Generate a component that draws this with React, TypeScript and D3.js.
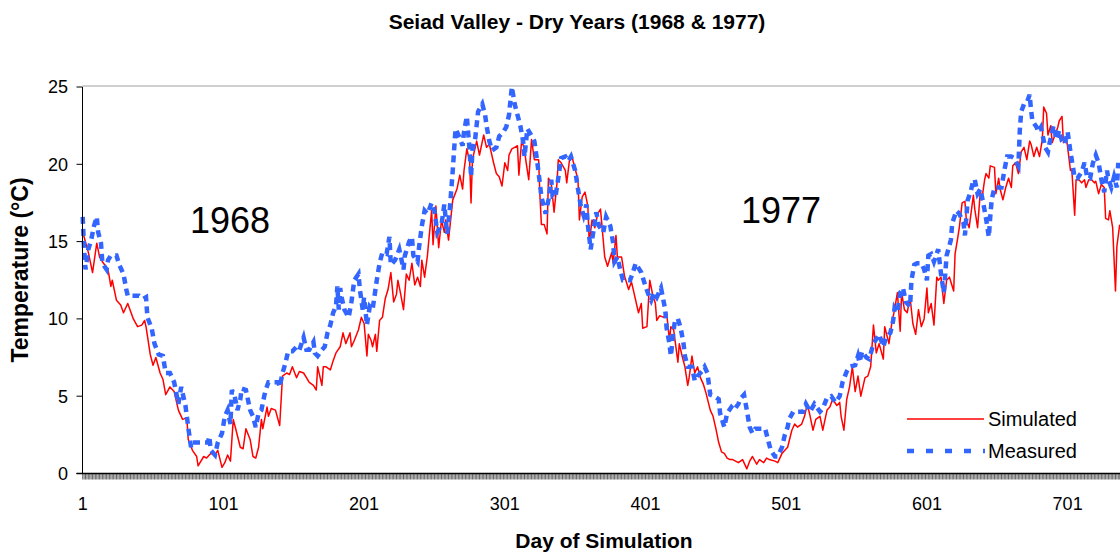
import * as d3 from "d3";

// Simulated daily water temperature
const simDays = [
  1, 2, 5, 8, 11, 13, 15, 19, 21, 22, 25, 28, 30, 33, 37, 40, 43, 45, 46, 49,
  51, 53, 56, 58, 60, 63, 66, 69, 72, 75, 76, 79, 82, 83, 87, 89, 92, 95, 97, 100,
  102, 104, 106, 108, 110, 113, 115, 117, 120, 122, 124, 126, 128, 129, 132, 133, 135, 138, 141, 143,
  146, 148, 150, 153, 155, 158, 160, 162, 165, 167, 168, 171, 172, 174, 177, 179, 181, 184, 186, 188,
  191, 192, 194, 197, 199, 201, 203, 204, 206, 207, 209, 210, 212, 214, 216, 218, 220, 222, 224, 225,
  227, 229, 231, 233, 235, 237, 239, 241, 242, 244, 246, 247, 249, 250, 252, 254, 256, 258, 259, 261,
  264, 267, 269, 271, 272, 274, 276, 277, 278, 281, 283, 286, 288, 290, 293, 295, 297, 299, 301, 303,
  304, 306, 308, 310, 311, 313, 315, 316, 318, 320, 322, 325, 326, 327, 329, 331, 332, 334, 336, 338,
  339, 341, 344, 345, 347, 349, 351, 353, 354, 356, 358, 360, 361, 363, 365, 367, 369, 372, 374, 377,
  378, 380, 381, 384, 386, 389, 391, 393, 396, 398, 399, 402, 404, 406, 408, 409, 411, 414, 416, 418,
  419, 421, 424, 425, 427, 429, 431, 432, 434, 436, 438, 440, 442, 444, 447, 449, 451, 453, 455, 457,
  459, 461, 463, 467, 470, 473, 475, 477, 480, 482, 485, 487, 489, 493, 495, 498, 500, 502, 505, 507,
  509, 512, 514, 516, 518, 520, 522, 525, 527, 530, 532, 534, 537, 539, 540, 542, 544, 546, 548, 550,
  552, 554, 557, 559, 561, 563, 565, 567, 570, 571, 574, 576, 578, 580, 582, 583, 585, 587, 589, 591,
  593, 595, 597, 599, 601, 602, 604, 606, 608, 609, 611, 613, 615, 617, 620, 621, 623, 624, 626, 628,
  629, 631, 633, 634, 635, 637, 639, 640, 642, 643, 645, 646, 649, 650, 652, 653, 655, 657, 659, 661,
  662, 664, 666, 668, 670, 672, 674, 675, 677, 679, 681, 683, 684, 686, 687, 689, 690, 692, 694, 695,
  697, 698, 700, 701, 703, 704, 706, 707, 709, 711, 713, 714, 716, 718, 720, 721, 723, 725, 727, 728,
  730, 731, 733, 735, 736, 738,
];
const simTemps = [
  15.6, 15.3, 14.3, 13.0, 14.9, 14.0, 13.7, 13.2, 12.1, 12.5, 11.2, 10.9, 10.4, 11.0, 10.0, 9.5, 9.6, 9.9, 9.5, 7.7,
  7.0, 7.5, 6.5, 6.1, 5.1, 5.6, 5.3, 4.1, 3.5, 3.6, 2.2, 1.5, 1.1, 0.5, 1.1, 1.0, 1.3, 1.2, 1.5, 0.4,
  0.7, 1.2, 0.8, 3.5, 2.8, 1.7, 1.6, 2.9, 2.2, 1.1, 1.0, 1.7, 3.5, 2.9, 4.3, 3.7, 4.2, 4.1, 3.1, 6.3,
  6.5, 6.4, 6.9, 6.2, 6.6, 6.5, 6.2, 5.9, 5.7, 5.4, 6.9, 5.7, 6.9, 6.9, 6.7, 7.3, 7.8, 8.2, 9.1, 8.4,
  9.1, 8.2, 8.6, 9.3, 10.1, 9.7, 7.6, 9.0, 8.6, 8.2, 9.0, 7.9, 9.9, 10.1, 11.3, 11.9, 13.0, 11.1, 11.6, 12.5,
  11.6, 10.6, 12.9, 12.5, 13.6, 12.2, 12.7, 12.1, 13.8, 12.7, 14.1, 15.1, 17.0, 14.8, 17.3, 14.6, 16.4, 15.6, 16.4, 15.1,
  17.7, 18.4, 19.3, 18.4, 19.6, 21.0, 20.2, 17.5, 20.3, 21.5, 20.6, 21.9, 21.1, 21.3, 20.1, 19.4, 19.2, 18.6, 20.1, 19.6,
  20.6, 21.0, 21.1, 21.2, 19.3, 21.6, 20.9, 20.2, 19.0, 21.6, 20.3, 20.3, 17.9, 16.1, 16.1, 15.5, 19.1, 18.8, 16.9, 18.7,
  20.3, 20.1, 19.6, 18.8, 20.3, 20.4, 19.7, 19.0, 16.4, 17.9, 18.2, 17.3, 14.9, 16.4, 15.9, 16.8, 17.1, 14.0, 13.4, 14.3,
  13.6, 15.4, 14.0, 14.0, 12.8, 11.9, 12.4, 11.6, 10.4, 11.0, 9.4, 9.5, 12.5, 11.6, 11.0, 9.9, 10.2, 10.1, 10.4, 8.6,
  9.5, 9.3, 7.2, 8.4, 7.6, 6.9, 5.7, 6.2, 7.6, 6.5, 6.9, 6.2, 5.8, 5.2, 4.1, 3.7, 2.9, 2.0, 1.4, 1.3,
  1.0, 0.9, 0.9, 0.7, 0.9, 0.3, 0.8, 1.1, 0.6, 0.9, 0.7, 1.0, 0.9, 0.8, 0.7, 1.3, 1.5, 1.7, 2.8, 3.2,
  3.0, 3.2, 3.7, 4.5, 3.7, 2.8, 3.5, 3.7, 2.8, 4.1, 4.3, 4.8, 4.4, 4.6, 3.7, 2.8, 4.8, 5.6, 6.9, 5.3,
  6.3, 5.0, 6.2, 6.3, 6.9, 9.6, 7.8, 8.4, 7.4, 9.5, 8.4, 9.7, 10.6, 11.7, 9.2, 11.7, 10.6, 10.4, 11.4, 9.7,
  9.0, 10.6, 9.5, 10.0, 12.0, 10.4, 11.0, 9.6, 12.7, 12.5, 12.7, 11.0, 12.5, 12.7, 11.8, 14.2, 15.3, 15.9, 17.5, 17.6,
  16.4, 15.9, 17.3, 18.0, 17.1, 15.9, 18.3, 17.7, 19.0, 19.4, 19.1, 19.9, 19.8, 18.1, 19.1, 18.4, 17.7, 18.5, 19.1, 18.5,
  19.9, 20.1, 19.4, 20.8, 21.1, 20.3, 21.5, 21.3, 20.5, 21.1, 20.5, 21.6, 23.7, 23.3, 21.9, 22.5, 21.4, 21.9, 22.4, 22.8,
  23.1, 21.4, 21.8, 21.1, 19.6, 19.6, 16.7, 19.0, 19.0, 18.8, 19.0, 18.5, 19.0, 19.0, 18.8, 18.9, 18.1, 18.7, 18.5, 16.5,
  16.4, 17.0, 15.9, 11.8, 14.7, 16.1,
];

// Measured water temperature
const measDays = [
  1, 2, 3, 5, 7, 9, 11, 12, 14, 15, 18, 19, 21, 25, 27, 30, 32, 33, 37, 41,
  44, 46, 47, 50, 52, 55, 58, 60, 63, 66, 69, 71, 74, 76, 78, 79, 87, 90, 91, 92,
  95, 97, 100, 102, 104, 106, 107, 109, 111, 113, 114, 117, 120, 122, 124, 126, 128, 130, 131, 133,
  140, 141, 143, 145, 147, 150, 153, 155, 158, 160, 162, 165, 166, 168, 171, 173, 175, 177, 179, 181,
  182, 183, 184, 185, 187, 190, 192, 194, 197, 198, 200, 201, 203, 205, 207, 210, 212, 214, 217, 219,
  220, 223, 226, 229, 230, 233, 235, 236, 239, 240, 242, 244, 246, 249, 251, 253, 256, 258, 260, 262,
  263, 264, 265, 266, 269, 271, 272, 274, 276, 277, 278, 280, 282, 285, 287, 288, 290, 292, 295, 297,
  300, 302, 304, 305, 306, 308, 310, 312, 314, 315, 317, 319, 322, 324, 326, 327, 330, 332, 334, 335,
  337, 339, 341, 344, 346, 348, 351, 353, 355, 357, 359, 360, 362, 364, 366, 368, 371, 373, 376, 378,
  379, 381, 383, 385, 390, 392, 394, 398, 401, 403, 405, 407, 409, 412, 415, 416, 418, 419, 421, 422,
  424, 426, 428, 429, 431, 434, 436, 438, 441, 443, 445, 447, 450, 453, 454, 457, 459, 462, 464, 467,
  469, 471, 473, 475, 477, 479, 486, 488, 490, 493, 495, 498, 500, 502, 503, 506, 513, 515, 518, 521,
  525, 527, 530, 533, 536, 539, 541, 544, 546, 550, 552, 553, 555, 558, 560, 563, 565, 567, 570, 572,
  575, 577, 578, 580, 582, 584, 586, 589, 590, 592, 594, 597, 599, 601, 602, 604, 606, 609, 611, 613,
  615, 618, 619, 622, 624, 627, 628, 630, 632, 634, 635, 637, 639, 641, 643, 645, 646, 647, 649, 651,
  654, 656, 658, 661, 663, 666, 667, 668, 670, 672, 674, 675, 676, 679, 680, 682, 685, 687, 688, 691,
  693, 695, 697, 699, 701, 703, 705, 706, 708, 711, 713, 715, 717, 719, 721, 723, 725, 727, 729, 730,
  732, 734, 736, 737,
];
const measTemps = [
  16.6, 14.5, 13.2, 14.5, 15.1, 16.0, 16.6, 15.6, 14.9, 13.6, 13.2, 13.8, 14.1, 14.1, 13.5, 12.9, 11.9, 11.5, 11.5, 11.5,
  11.3, 11.4, 10.1, 9.4, 8.4, 7.7, 7.6, 6.5, 6.5, 5.9, 4.5, 5.6, 4.4, 3.0, 1.7, 2.0, 2.0, 2.0, 2.4, 1.5,
  1.2, 2.0, 2.6, 3.7, 4.1, 3.2, 5.4, 5.0, 4.1, 4.8, 5.5, 5.4, 4.1, 3.7, 3.0, 3.9, 4.1, 5.0, 5.4, 5.9,
  5.9, 5.6, 6.5, 7.1, 7.9, 7.9, 8.2, 8.0, 8.8, 8.0, 8.0, 8.5, 7.8, 7.6, 8.0, 8.2, 9.1, 9.6, 10.4, 10.8,
  12.1, 10.6, 12.0, 11.4, 10.6, 10.1, 11.1, 12.5, 12.9, 11.9, 10.6, 11.4, 9.6, 10.8, 10.6, 12.5, 13.6, 14.3, 14.2, 15.3,
  13.5, 13.8, 14.5, 13.2, 14.1, 15.0, 15.3, 14.1, 13.7, 14.6, 16.0, 17.0, 16.8, 17.5, 17.0, 15.6, 16.1, 17.4, 15.5, 17.2,
  18.4, 19.6, 21.0, 22.3, 21.7, 21.2, 22.1, 23.1, 20.9, 19.2, 20.9, 21.7, 23.4, 23.9, 23.2, 22.5, 21.5, 20.9, 21.1, 21.8,
  22.1, 22.4, 23.2, 24.1, 25.0, 23.9, 23.2, 22.5, 21.5, 20.5, 22.3, 22.0, 21.5, 20.2, 18.7, 17.9, 16.8, 17.7, 19.0, 17.9,
  17.9, 19.1, 20.4, 20.5, 20.2, 20.5, 19.6, 18.4, 17.3, 16.7, 17.4, 16.1, 14.5, 15.7, 16.9, 16.0, 15.6, 16.6, 16.0, 14.9,
  13.7, 14.0, 13.2, 12.5, 12.5, 13.0, 13.6, 13.0, 12.1, 11.6, 11.2, 11.7, 11.4, 12.0, 10.6, 9.4, 8.4, 7.6, 9.3, 9.9,
  10.0, 9.4, 8.4, 7.6, 6.9, 6.9, 6.0, 6.3, 6.6, 6.9, 6.5, 5.1, 5.0, 4.8, 3.9, 3.0, 3.9, 4.3, 4.1, 4.5,
  4.9, 5.1, 4.1, 3.0, 2.6, 2.9, 2.9, 2.2, 1.5, 1.1, 1.1, 1.7, 2.5, 3.0, 3.5, 4.0, 4.0, 4.5, 4.0, 4.5,
  4.0, 4.2, 4.9, 5.0, 4.6, 5.0, 5.9, 6.6, 6.9, 7.0, 7.6, 7.2, 7.9, 7.5, 7.4, 8.4, 8.7, 9.0, 8.2, 8.8,
  9.1, 9.9, 10.7, 10.4, 11.7, 12.0, 11.1, 10.8, 12.5, 13.5, 13.6, 13.6, 13.2, 12.5, 14.1, 14.2, 13.7, 14.5, 12.9, 11.7,
  14.1, 15.1, 16.2, 17.0, 16.8, 16.2, 15.4, 17.7, 18.2, 19.0, 19.0, 18.1, 18.4, 17.5, 16.5, 15.3, 16.6, 17.7, 18.5, 18.5,
  18.5, 19.6, 20.5, 20.5, 20.4, 19.9, 22.2, 23.4, 23.9, 24.0, 24.5, 23.5, 22.8, 22.4, 22.1, 22.4, 21.1, 20.8, 21.3, 22.5,
  21.6, 22.2, 21.5, 21.3, 22.1, 20.8, 19.7, 19.1, 19.1, 19.5, 20.1, 19.1, 19.1, 20.1, 20.6, 20.1, 19.0, 18.2, 19.6, 19.0,
  18.5, 19.2, 18.5, 20.1,
];

const yTickValues = [0, 5, 10, 15, 20, 25];
const xTickLabels = [1, 101, 201, 301, 401, 501, 601, 701];
const seriesNames = ["Simulated", "Measured"];

export default function App() {
  const width = 1120;
  const height = 555;
  const marginLeft = 82.5;
  const marginTop = 87;
  const plotBottom = 473.5;
  const plotRight = 1120;
  const font = "'Liberation Sans', Arial, sans-serif";

  const xScale = d3.scaleLinear().domain([1, 738]).range([marginLeft + 0.2, plotRight - 0.3]);
  const yScale = d3.scaleLinear().domain([0, 25]).range([plotBottom, marginTop]);

  const line = d3
    .line<[number, number]>()
    .x((d) => xScale(d[0]))
    .y((d) => yScale(d[1]));

  const simPath = line(simDays.map((d, i) => [d, simTemps[i]]));
  const measPath = line(measDays.map((d, i) => [d, measTemps[i]]));

  // one small tick per day on the category axis
  const dayTicks = d3.range(1, 739);

  return (
    <svg
      width={width}
      height={height}
      style={{ position: "absolute", left: 0, top: 0, background: "#fff" }}
      fontFamily={font}
    >
      {/* Title */}
      <text x={577} y={29} textAnchor="middle" fontSize={21} fontWeight="bold">
        Seiad Valley - Dry Years (1968 &amp; 1977)
      </text>

      {/* plot area border */}
      <line x1={marginLeft} x2={plotRight} y1={marginTop - 1} y2={marginTop - 1} stroke="#a0a0a0" strokeWidth={1} />

      {/* year labels */}
      <text x={230} y={233} textAnchor="middle" fontSize={36}>1968</text>
      <text x={781} y={223} textAnchor="middle" fontSize={36}>1977</text>

      {/* series */}
      <path d={simPath ?? ""} fill="none" stroke="#FF0000" strokeWidth={1.5} strokeLinejoin="round" />
      <path d={measPath ?? ""} fill="none" stroke="#3366FF" strokeWidth={4.5} strokeDasharray="7 5" />

      {/* Y axis */}
      <line x1={marginLeft} x2={marginLeft} y1={marginTop} y2={plotBottom} stroke="black" />
      {yTickValues.map((t) => (
        <g key={t} transform={`translate(0,${yScale(t)})`}>
          <line x1={marginLeft - 6} x2={marginLeft} stroke="black" />
          <text x={68} dy="0.35em" textAnchor="end" fontSize={18}>
            {t}
          </text>
        </g>
      ))}

      {/* X axis */}
      {dayTicks.map((d) => (
        <line
          key={d}
          x1={xScale(d)}
          x2={xScale(d)}
          y1={plotBottom}
          y2={plotBottom + 6}
          stroke="black"
          strokeWidth={0.6}
        />
      ))}
      <line x1={marginLeft - 6} x2={plotRight} y1={plotBottom} y2={plotBottom} stroke="black" strokeWidth={1.5} />
      {xTickLabels.map((t) => (
        <text key={t} x={xScale(t)} y={510} textAnchor="middle" fontSize={18}>
          {t}
        </text>
      ))}

      {/* axis titles */}
      <text x={604} y={548} textAnchor="middle" fontSize={21} fontWeight="bold">
        Day of Simulation
      </text>
      <text
        transform={`translate(28,270) rotate(-90)`}
        textAnchor="middle"
        fontSize={23}
        fontWeight="bold"
      >
        Temperature (°C)
      </text>

      {/* Legend */}
      <g transform="translate(907,419)">
        <line x1={0} x2={77} y1={0} y2={0} stroke="#FF0000" strokeWidth={1.5} />
        <text x={81} y={7} fontSize={20}>{seriesNames[0]}</text>
        <line x1={0} x2={78} y1={32} y2={32} stroke="#3366FF" strokeWidth={4.5} strokeDasharray="7 12" />
        <text x={81} y={39} fontSize={20}>{seriesNames[1]}</text>
      </g>
    </svg>
  );
}
